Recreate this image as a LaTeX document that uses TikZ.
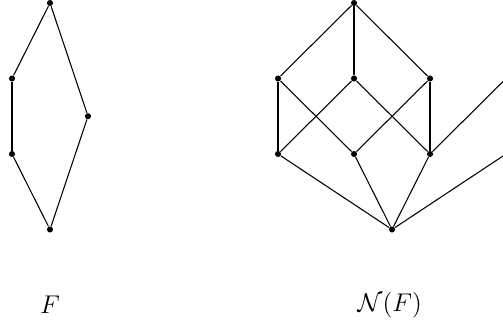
\documentclass[tikz,border=0pt]{standalone}
\usetikzlibrary{positioning}

\begin{document}
\begin{tikzpicture}[
  x=1.5cm, y=1.49cm,
  font=\fontsize{13.5}{16}\selectfont,
  pt/.style={circle, fill=black, inner sep=0pt, minimum size=0.12cm},
  edge/.style={draw=black, line width=0.6pt}
]
\clip (-0.158,-1.237) rectangle (6.46,3.04);
% F
\node[pt] (f0) at (0.5,0) {};
\node[pt] (f1) at (0,1) {};
\node[pt] (f2) at (0,2) {};
\node[pt] (f3) at (1,1.5) {};
\node[pt] (f4) at (0.5,3) {};
\draw[edge] (f0)--(f1); \draw[edge] (f1)--(f2); \draw[edge] (f2)--(f4);
\draw[edge] (f0)--(f3); \draw[edge] (f3)--(f4);
% N(F)
\node[pt] (n0) at (5,0) {};
\node[pt] (a1) at (3.5,1) {};
\node[pt] (a2) at (4.5,1) {};
\node[pt] (a3) at (5.5,1) {};
\node[pt] (b1) at (3.5,2) {};
\node[pt] (b2) at (4.5,2) {};
\node[pt] (b3) at (5.5,2) {};
\node[pt] (nt) at (4.5,3) {};
\coordinate (ra) at (6.5,1);
\coordinate (rb) at (6.5,2);
\draw[edge] (n0)--(a1); \draw[edge] (n0)--(a2); \draw[edge] (n0)--(a3);
\draw[edge] (n0)--(ra); \draw[edge] (a3)--(rb);
\draw[edge] (a1)--(b1); \draw[edge] (a1)--(b2);
\draw[edge] (a2)--(b1); \draw[edge] (a2)--(b3);
\draw[edge] (a3)--(b2); \draw[edge] (a3)--(b3);
\draw[edge] (b1)--(nt); \draw[edge] (b2)--(nt); \draw[edge] (b3)--(nt);
% labels
\node (lf) at (0.5,-1) {$F$};
\node (ln) at (4.97,-1) {$\mathcal{N}(F)$};
\end{tikzpicture}
\end{document}
